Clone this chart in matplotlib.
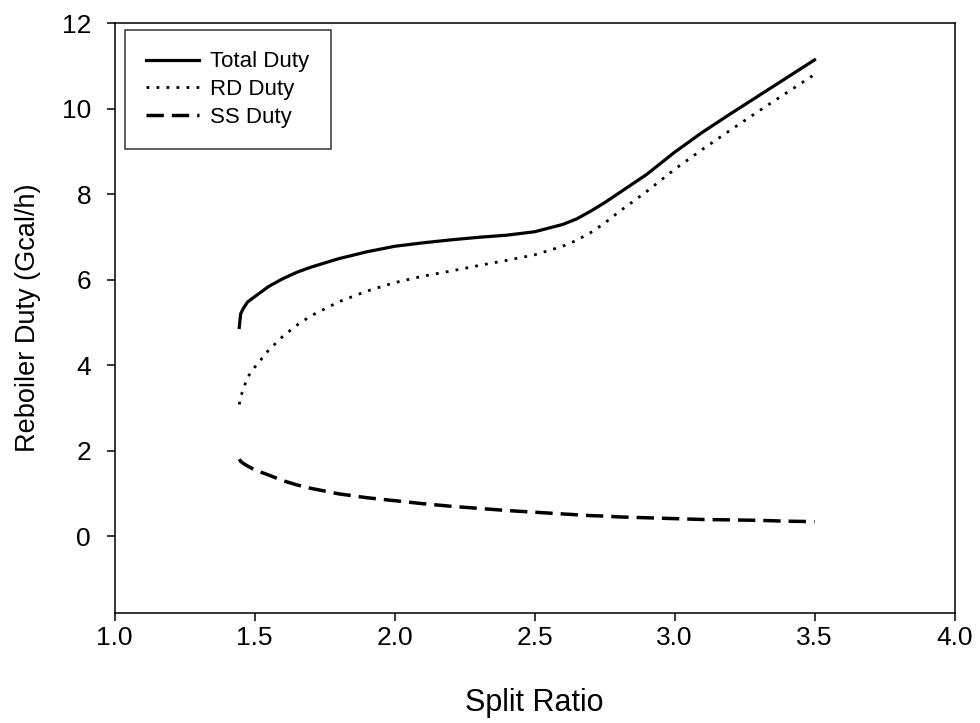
import matplotlib
matplotlib.use("Agg")
import matplotlib.pyplot as plt

plt.rcParams['font.family'] = ['Liberation Sans', 'DejaVu Sans']

# split ratio and reboiler duties (Gcal/h)
split_ratio = [1.445, 1.45, 1.46, 1.475, 1.5, 1.55, 1.6, 1.65, 1.7, 1.8, 1.9,
               2.0, 2.1, 2.2, 2.3, 2.4, 2.5, 2.6, 2.65, 2.7, 2.75, 2.8, 2.85,
               2.9, 3.0, 3.1, 3.2, 3.3, 3.4, 3.5]
total_duty = [4.88, 5.2, 5.33, 5.48, 5.6, 5.84, 6.02, 6.17, 6.29, 6.49, 6.65,
              6.78, 6.86, 6.93, 6.99, 7.04, 7.12, 7.29, 7.42, 7.6, 7.8, 8.02, 8.24,
              8.46, 8.98, 9.45, 9.88, 10.3, 10.72, 11.14]
rd_duty = [3.08, 3.25, 3.45, 3.72, 3.95, 4.35, 4.67, 4.93, 5.15, 5.48, 5.73,
           5.93, 6.08, 6.2, 6.33, 6.45, 6.58, 6.78, 6.92, 7.1, 7.32, 7.58, 7.82,
           8.06, 8.58, 9.05, 9.5, 9.94, 10.37, 10.8]
ss_duty = [1.8, 1.75, 1.7, 1.64, 1.55, 1.43, 1.3, 1.2, 1.12, 0.99, 0.9,
           0.83, 0.76, 0.7, 0.65, 0.6, 0.56, 0.52, 0.5, 0.48, 0.47, 0.45, 0.44,
           0.43, 0.41, 0.39, 0.38, 0.37, 0.35, 0.34]

x_ticks = [1.0, 1.5, 2.0, 2.5, 3.0, 3.5, 4.0]
y_ticks = [0, 2, 4, 6, 8, 10, 12]

fig = plt.figure(figsize=(9.8, 7.23), dpi=100)
ax = fig.add_axes([0.117, 0.152, 0.857, 0.816])

ax.plot(split_ratio, total_duty, color='black', lw=2.3, label='Total Duty')
ax.plot(split_ratio, rd_duty, color='black', lw=2.0, linestyle=(0, (1, 2.6)),
        dash_capstyle='butt', label='RD Duty')
ax.plot(split_ratio, ss_duty, color='black', lw=2.5, linestyle=(0, (5, 2.3)),
        label='SS Duty')

ax.set_xlim(1.0, 4.0)
ax.set_ylim(-1.8, 12)
ax.set_xticks(x_ticks)
ax.set_xticklabels(['%.1f' % v for v in x_ticks])
ax.set_yticks(y_ticks)

for s in ax.spines.values():
    s.set_linewidth(1.1)
ax.tick_params(direction='out', length=6, width=1.1, labelsize=19,
               top=False, right=False)
ax.tick_params(axis='x', pad=3)
ax.tick_params(axis='y', pad=11)

ax.set_xlabel('Split Ratio', fontsize=22, labelpad=28)
ax.set_ylabel('Reboiler Duty (Gcal/h)', fontsize=19.5, labelpad=15)

leg = ax.legend(loc='upper left', fontsize=16, frameon=True, fancybox=False,
                edgecolor='black', handlelength=2.4, handletextpad=0.5,
                borderpad=0.95, borderaxespad=0, labelspacing=0.3,
                bbox_to_anchor=(0.012, 0.988))
leg.get_frame().set_linewidth(1.1)

fig.savefig('out.png', dpi=100)
